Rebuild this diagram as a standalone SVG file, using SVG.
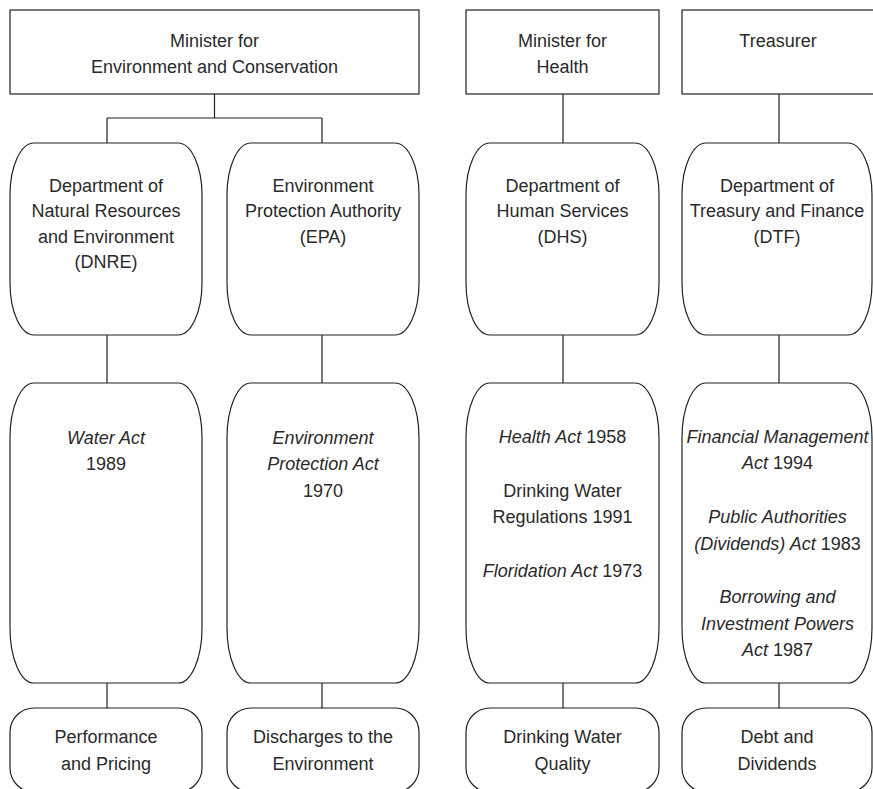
<svg xmlns="http://www.w3.org/2000/svg" width="873" height="789" viewBox="0 0 873 789">
<style>
  .box{fill:#fff;stroke:#222;stroke-width:1.2}
  .ln{fill:none;stroke:#222;stroke-width:1.2}
  text{font-family:"Liberation Sans",Arial,sans-serif;font-size:18px;fill:#2a2a2a;text-anchor:middle}
  .i{font-style:italic}
</style>
<rect width="873" height="789" fill="#fff"/>
<g id="connectors" class="ln">
  <path d="M214.5 94 V118 M107 118 H322 M107 118 V143 M322 118 V143"/>
  <path d="M563 94 V143 M779 94 V143"/>
  <path d="M107 335 V383 M322 335 V383 M563 335 V383 M779 335 V383"/>
  <path d="M107 683 V708 M322 683 V708 M563 683 V708 M779 683 V708"/>
</g>
<g id="minister-env">
  <rect class="box" x="10" y="10" width="409" height="84"/>
  <text x="214.5" y="47">Minister for</text>
  <text x="214.5" y="73">Environment and Conservation</text>
</g>
<g id="minister-health">
  <rect class="box" x="466" y="10" width="193" height="84"/>
  <text x="562.5" y="47">Minister for</text>
  <text x="562.5" y="73">Health</text>
</g>
<g id="treasurer">
  <rect class="box" x="682" y="10" width="193" height="84"/>
  <text x="778" y="47">Treasurer</text>
</g>
<g id="dnre">
  <rect class="box" x="10" y="143" width="192" height="192" rx="24" ry="52"/>
  <text x="106" y="192">Department of</text>
  <text x="106" y="217">Natural Resources</text>
  <text x="106" y="243">and Environment</text>
  <text x="106" y="268">(DNRE)</text>
</g>
<g id="epa">
  <rect class="box" x="227" y="143" width="192" height="192" rx="24" ry="52"/>
  <text x="323" y="192">Environment</text>
  <text x="323" y="217">Protection Authority</text>
  <text x="323" y="243">(EPA)</text>
</g>
<g id="dhs">
  <rect class="box" x="466" y="143" width="193" height="192" rx="24" ry="52"/>
  <text x="562.5" y="192">Department of</text>
  <text x="562.5" y="217">Human Services</text>
  <text x="562.5" y="243">(DHS)</text>
</g>
<g id="dtf">
  <rect class="box" x="682" y="143" width="190" height="192" rx="24" ry="52"/>
  <text x="777" y="192">Department of</text>
  <text x="777" y="217">Treasury and Finance</text>
  <text x="777" y="243">(DTF)</text>
</g>
<g id="water-act">
  <rect class="box" x="10" y="383" width="192" height="300" rx="24" ry="55"/>
  <text x="106" y="444" class="i">Water Act</text>
  <text x="106" y="470">1989</text>
</g>
<g id="ep-act">
  <rect class="box" x="227" y="383" width="192" height="300" rx="24" ry="55"/>
  <text x="323" y="444" class="i">Environment</text>
  <text x="323" y="470" class="i">Protection Act</text>
  <text x="323" y="497">1970</text>
</g>
<g id="health-acts">
  <rect class="box" x="466" y="383" width="193" height="300" rx="24" ry="55"/>
  <text x="562.5" y="443"><tspan class="i">Health Act</tspan> 1958</text>
  <text x="562.5" y="497">Drinking Water</text>
  <text x="562.5" y="523">Regulations 1991</text>
  <text x="562.5" y="577"><tspan class="i">Floridation Act</tspan> 1973</text>
</g>
<g id="treasury-acts">
  <rect class="box" x="682" y="383" width="190" height="300" rx="24" ry="55"/>
  <text x="777.5" y="443" class="i">Financial Management</text>
  <text x="777.5" y="469"><tspan class="i">Act</tspan> 1994</text>
  <text x="777.5" y="523" class="i">Public Authorities</text>
  <text x="777.5" y="550"><tspan class="i">(Dividends) Act</tspan> 1983</text>
  <text x="777.5" y="603" class="i">Borrowing and</text>
  <text x="777.5" y="630" class="i">Investment Powers</text>
  <text x="777.5" y="656"><tspan class="i">Act</tspan> 1987</text>
</g>
<g id="performance">
  <rect class="box" x="10" y="708" width="192" height="84" rx="24" ry="24"/>
  <text x="106" y="743">Performance</text>
  <text x="106" y="770">and Pricing</text>
</g>
<g id="discharges">
  <rect class="box" x="227" y="708" width="192" height="84" rx="24" ry="24"/>
  <text x="323" y="743">Discharges to the</text>
  <text x="323" y="770">Environment</text>
</g>
<g id="water-quality">
  <rect class="box" x="466" y="708" width="193" height="84" rx="24" ry="24"/>
  <text x="562.5" y="743">Drinking Water</text>
  <text x="562.5" y="770">Quality</text>
</g>
<g id="debt">
  <rect class="box" x="682" y="708" width="190" height="84" rx="24" ry="24"/>
  <text x="777" y="743">Debt and</text>
  <text x="777" y="770">Dividends</text>
</g>
</svg>
